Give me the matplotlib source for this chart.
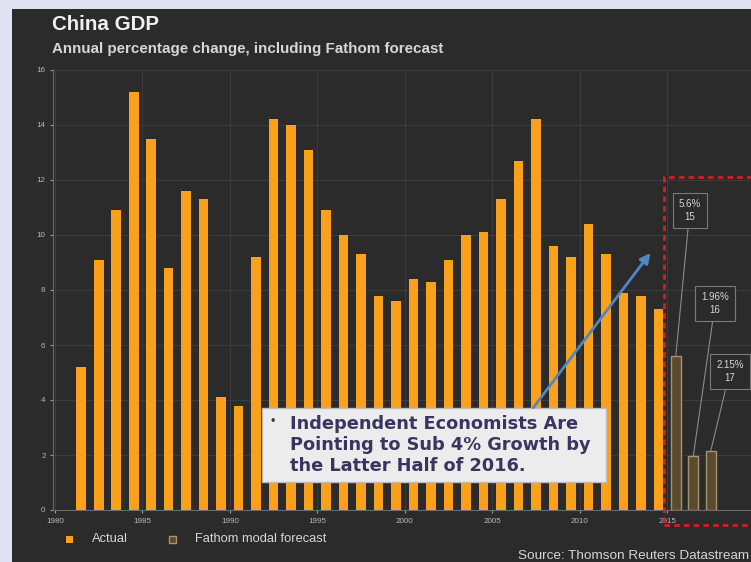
import matplotlib.pyplot as plt
from matplotlib.patches import Rectangle

plt.rcParams["font.family"] = ["Liberation Sans", "DejaVu Sans"]

# Data
actual_years = list(range(1981, 2015))
actual_growth = [5.2, 9.1, 10.9, 15.2, 13.5, 8.8, 11.6, 11.3, 4.1, 3.8,
                 9.2, 14.2, 14.0, 13.1, 10.9, 10.0, 9.3, 7.8, 7.6, 8.4,
                 8.3, 9.1, 10.0, 10.1, 11.3, 12.7, 14.2, 9.6, 9.2, 10.4,
                 9.3, 7.9, 7.8, 7.3]
forecast_years = [2015, 2016, 2017]
forecast_growth = [5.6, 1.96, 2.15]
forecast_labels = ["5.6%\n15", "1.96%\n16", "2.15%\n17"]
x_ticks = [1980, 1985, 1990, 1995, 2000, 2005, 2010, 2015]
y_ticks = [0, 2, 4, 6, 8, 10, 12, 14, 16]

orange = "#f9a11b"
panel = "#2b2b2b"
txt = "#d6d6d6"

fig = plt.figure(figsize=(7.51, 5.62), dpi=100)
fig.patch.set_facecolor("#dfe3f1")
fig.patches.append(Rectangle((12 / 751, 0), 1, 1 - 9 / 562, transform=fig.transFigure,
                             facecolor=panel, edgecolor="none", zorder=-5))

ax = fig.add_axes([53.25 / 751, 52 / 562, 1 - 53.25 / 751, 440 / 562])
ax.set_facecolor(panel)

# bars sit in the middle of each year slot
ax.bar([y + 0.5 for y in actual_years], actual_growth, width=0.55,
       color=orange, zorder=3)
ax.bar([y + 0.5 for y in forecast_years], forecast_growth, width=0.55,
       color="#5a4b2d", edgecolor="#a59370", linewidth=1, zorder=3)

ax.set_xlim(1979.9, 2019.8)
ax.set_ylim(0, 16)
ax.set_xticks(x_ticks)
ax.set_yticks(y_ticks)
ax.tick_params(colors="#9a9a9a", labelcolor="#b8b8b8", labelsize=5.8, length=2)
ax.grid(True, color="#3b3b3b", linewidth=0.8, zorder=0)
for side in ["top", "right"]:
    ax.spines[side].set_visible(False)
for side in ["left", "bottom"]:
    ax.spines[side].set_color("#6a6a6a")

# forecast value boxes with connector lines
label_pos = [(2016.3, 10.9), (2017.75, 7.5), (2018.6, 5.05)]
for yr, val, lab, pos in zip(forecast_years, forecast_growth, forecast_labels, label_pos):
    ax.annotate(lab, xy=(yr + 0.5, val), xytext=pos, ha="center", va="center",
                fontsize=7, color=txt, zorder=6, annotation_clip=False,
                linespacing=1.4,
                bbox=dict(boxstyle="square,pad=0.6", fc=panel, ec="#7a7a7a", lw=0.8),
                arrowprops=dict(arrowstyle="-", color="#8a8a8a", lw=0.8,
                                shrinkA=0, shrinkB=0))

# red dashed frame around the forecast
ax.add_patch(Rectangle((2014.8, -0.55), 10, 12.65, fill=False, edgecolor="#d41f1f",
                       linestyle=(0, (2, 1.5)), linewidth=2, clip_on=False, zorder=5))

# callout box
ax.add_patch(Rectangle((1991.84, 1.02), 19.66, 2.69, facecolor="#ececec",
                       edgecolor="#bdbdbd", linewidth=1, zorder=7))
ax.text(1992.35, 3.2, "\u2022", color="#3a3560", fontsize=9, ha="left", va="center", zorder=8)
ax.text(1993.45, 2.36, "Independent Economists Are\nPointing to Sub 4% Growth by\nthe Latter Half of 2016.",
        color="#3a3560", fontsize=12.8, fontweight="bold", ha="left", va="center",
        linespacing=1.2, zorder=8, family="DejaVu Sans")
ax.annotate("", xy=(2014.05, 9.35), xytext=(2007.35, 3.72),
            arrowprops=dict(arrowstyle="-|>,head_length=0.6,head_width=0.3",
                            color="#4f86c6", lw=2, shrinkA=0, shrinkB=0), zorder=8)

# titles
fig.text(52 / 751, 1 - 24 / 562, "China GDP", color="#f0f0f0", fontsize=14.8,
         fontweight="bold", ha="left", va="center")
fig.text(52 / 751, 1 - 49 / 562, "Annual percentage change, including Fathom forecast",
         color=txt, fontsize=10.9, fontweight="bold", ha="left", va="center")

# legend
fig.patches.append(Rectangle((66 / 751, 1 - 543 / 562), 7 / 751, 7 / 562,
                             transform=fig.transFigure, facecolor=orange, edgecolor="none"))
fig.text(92 / 751, 1 - 539 / 562, "Actual", color=txt, fontsize=9.3, ha="left", va="center")
fig.patches.append(Rectangle((169 / 751, 1 - 543 / 562), 7 / 751, 7 / 562,
                             transform=fig.transFigure, facecolor="#5a4b2d",
                             edgecolor="#a59370", linewidth=1))
fig.text(195 / 751, 1 - 539 / 562, "Fathom modal forecast", color=txt, fontsize=9.3,
         ha="left", va="center")
fig.text(518 / 751, 1 - 556 / 562, "Source: Thomson Reuters Datastream", color=txt,
         fontsize=9.7, ha="left", va="center")

fig.savefig("out.png", dpi=100, facecolor=fig.get_facecolor())
